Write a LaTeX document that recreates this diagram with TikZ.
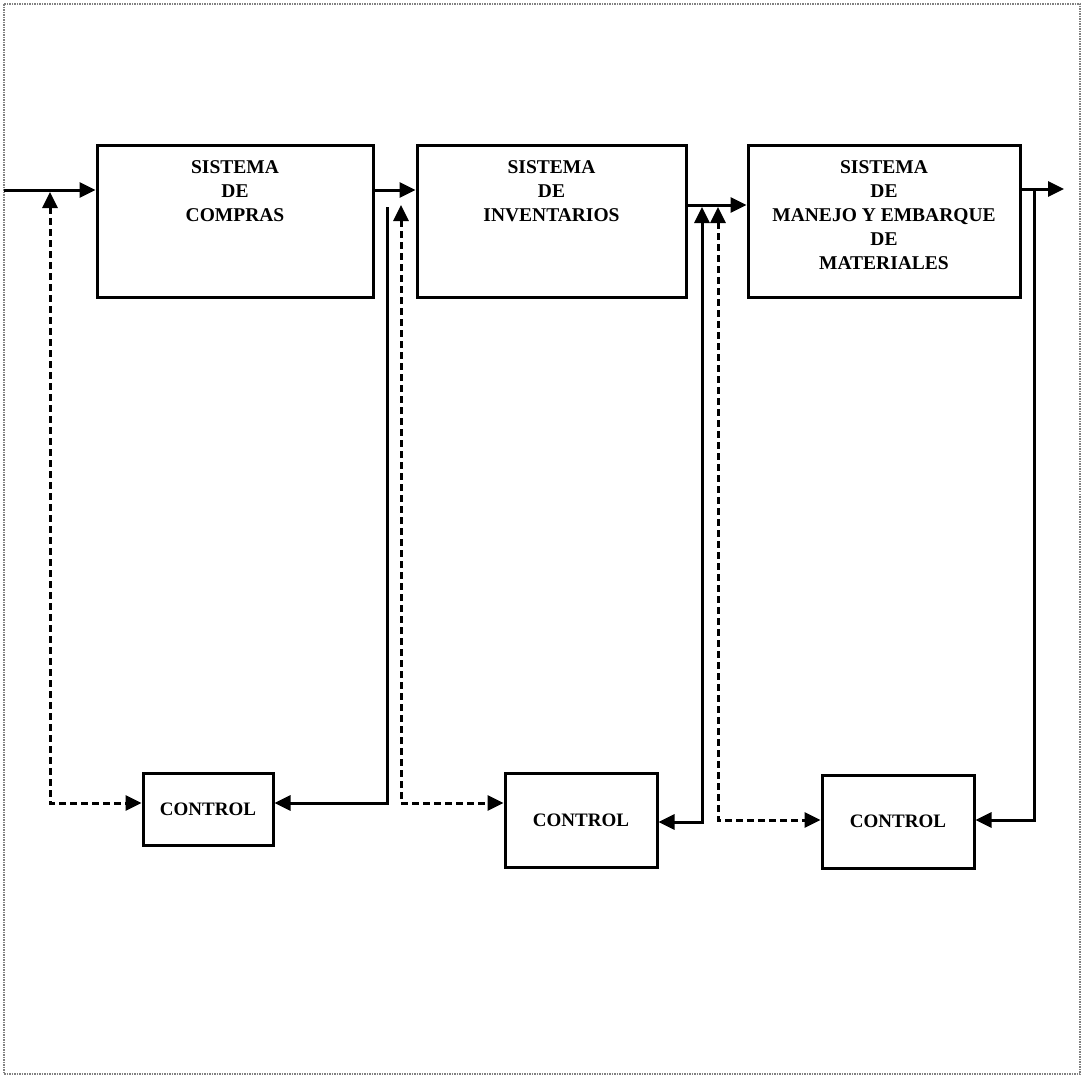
\documentclass[tikz,border=0pt]{standalone}
\usepackage{fontspec}
\setmainfont{Liberation Serif}
\usetikzlibrary{arrows.meta}
\begin{document}
\begin{tikzpicture}[x=1pt,y=-1pt,
  sysbox/.style={draw, line width=3pt, inner sep=0pt},
  lbl/.style={font=\fontsize{19.5}{24}\selectfont\bfseries, align=center, anchor=north, inner sep=0pt},
  ctl/.style={sysbox, font=\fontsize{19}{23}\selectfont\bfseries},
  tri/.tip={Triangle[length=16pt,width=15pt]},
  solidc/.style={line width=3pt},
  dashc/.style={line width=3pt, dash pattern=on 7pt off 4pt},
  frame/.style={draw=gray, line width=1.2pt, dash pattern=on 1.5pt off 1pt}
]
\useasboundingbox (0,0) rectangle (1086,1079);
\draw[frame] (4,4) rectangle (1080,1074);

% system boxes
\node[sysbox, minimum width=276pt, minimum height=152pt] (b1) at (235,221) {};
\node[sysbox, minimum width=269pt, minimum height=152pt] (b2) at (551.5,221) {};
\node[sysbox, minimum width=272pt, minimum height=152pt] (b3) at (884,221) {};
\node[lbl] (t1) at (235,160) {SISTEMA\\DE\\COMPRAS};
\node[lbl] (t2) at (551.5,160) {SISTEMA\\DE\\INVENTARIOS};
\node[lbl] (t3) at (884,160) {SISTEMA\\DE\\MANEJO Y EMBARQUE\\DE\\MATERIALES};

% control boxes
\node[ctl, minimum width=130pt, minimum height=72pt] (c1) at (208,809) {CONTROL};
\node[ctl, minimum width=152pt, minimum height=94pt] (c2) at (581,820) {CONTROL};
\node[ctl, minimum width=152pt, minimum height=93pt] (c3) at (898,821.5) {CONTROL};

% coordinates
\coordinate (in) at (4,190);
\coordinate (m23) at (700,205);
\coordinate (out) at (1064,189);
\coordinate (d1top) at (50,192);
\coordinate (d1bot) at (50,803);
\coordinate (s1top) at (387,207);
\coordinate (s1bot) at (387,803);
\coordinate (d2top) at (401,205);
\coordinate (d2bot) at (401,803);
\coordinate (s2top) at (702,207);
\coordinate (s2bot) at (702,822);
\coordinate (d3top) at (718,207);
\coordinate (d3bot) at (718,820);
\coordinate (s3top) at (1034,189);
\coordinate (s3bot) at (1034,820);

% main flow
\draw[solidc, -tri] (in) -- (b1.west |- in);
\draw[solidc, -tri] (b1.east |- in) -- (b2.west |- in);
\draw[solidc, -tri] (b2.east |- m23) -- (b3.west |- m23);
\draw[solidc, -tri] (b3.east |- out) -- (out);

% feedback / control lines
\draw[dashc, tri-tri] (d1top) -- (d1bot) -- (c1.west |- d1bot);
\draw[solidc, -tri] (s1top) -- (s1bot) -- (c1.east |- s1bot);
\draw[dashc, tri-tri] (d2top) -- (d2bot) -- (c2.west |- d2bot);
\draw[solidc, tri-tri] (s2top) -- (s2bot) -- (c2.east |- s2bot);
\draw[dashc, tri-tri] (d3top) -- (d3bot) -- (c3.west |- d3bot);
\draw[solidc, -tri] (s3top) -- (s3bot) -- (c3.east |- s3bot);
\end{tikzpicture}
\end{document}
